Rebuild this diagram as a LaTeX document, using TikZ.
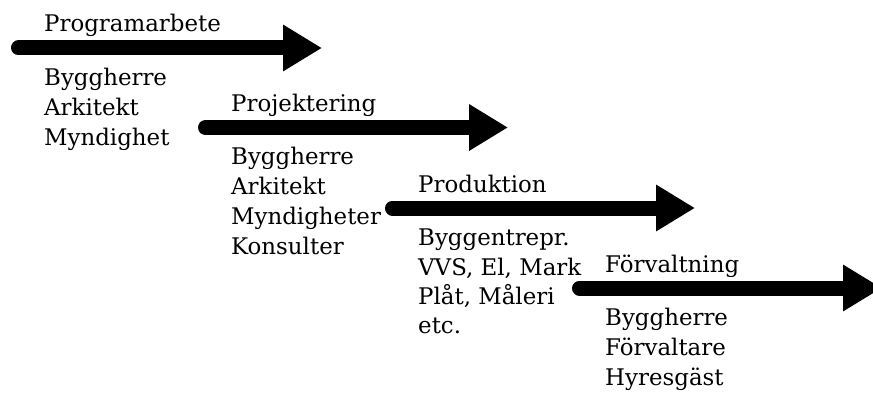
\documentclass[tikz,border=0pt]{standalone}
\usepackage{fontspec}
\setmainfont{DejaVu Serif}
\usetikzlibrary{arrows.meta}
\begin{document}
\begin{tikzpicture}[x=1pt,y=-1pt,
  phase/.style={line width=15pt, line cap=round, -{Triangle[length=39pt,width=44pt]}},
  lbl/.style={anchor=base west, inner sep=0pt, font=\fontsize{22.9pt}{30pt}\selectfont}]
\clip (0,0) rectangle (873,396);
% arrows
\coordinate (a1s) at (18.5,48);   \coordinate (a1e) at (322,48);
\coordinate (a2s) at (205.5,127.5); \coordinate (a2e) at (508,127.5);
\coordinate (a3s) at (392.5,208); \coordinate (a3e) at (695,208);
\coordinate (a4s) at (579.5,288); \coordinate (a4e) at (882,288);
\draw[phase] (a1s) -- (a1e);
\draw[phase] (a2s) -- (a2e);
\draw[phase] (a3s) -- (a3e);
\draw[phase] (a4s) -- (a4e);
% group 1
\node[lbl] (t1) at (44,32) {Programarbete};
\node[lbl] (g1a) at (44,85) {Byggherre};
\node[lbl] (g1b) at (44,115) {Arkitekt};
\node[lbl] (g1c) at (44,145) {Myndighet};
% group 2
\node[lbl] (t2) at (231,111.5) {Projektering};
\node[lbl] (g2a) at (231,164.5) {Byggherre};
\node[lbl] (g2b) at (231,194.5) {Arkitekt};
\node[lbl] (g2c) at (231,224.5) {Myndigheter};
\node[lbl] (g2d) at (231,254.5) {Konsulter};
% group 3
\node[lbl] (t3) at (418,192) {Produktion};
\node[lbl] (g3a) at (418,245) {Byggentrepr.};
\node[lbl] (g3b) at (418,275) {VVS, El, Mark};
\node[lbl] (g3c) at (418,304) {Plåt, Måleri};
\node[lbl] (g3d) at (418,333) {etc.};
% group 4
\node[lbl] (t4) at (605,272) {Förvaltning};
\node[lbl] (g4a) at (605,325) {Byggherre};
\node[lbl] (g4b) at (605,355) {Förvaltare};
\node[lbl] (g4c) at (605,385) {Hyresgäst};
\end{tikzpicture}
\end{document}
